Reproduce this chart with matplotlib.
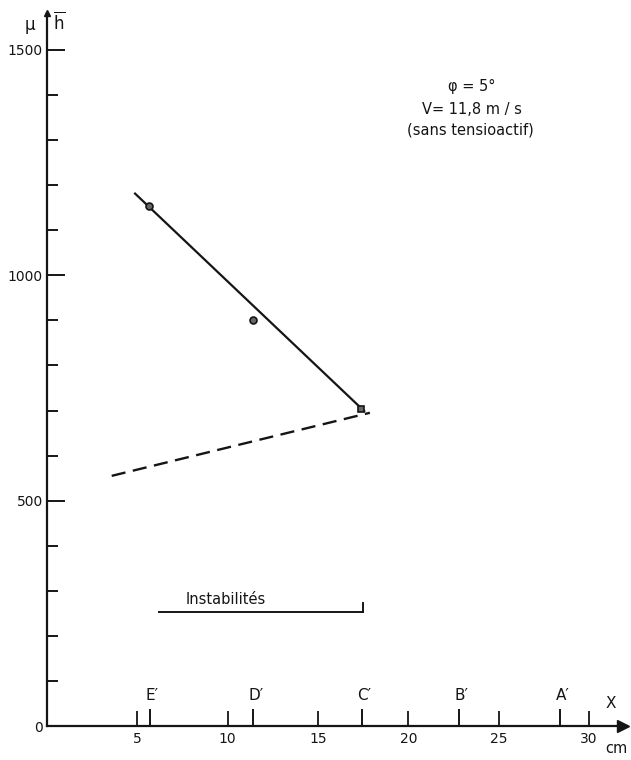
import matplotlib
matplotlib.use("Agg")
import matplotlib.pyplot as plt
from matplotlib.ticker import MultipleLocator

plt.rcParams['font.family'] = ['DejaVu Sans']
plt.rcParams['mathtext.fontset'] = 'dejavusans'

# measured points (X in cm, mu/h)
x_pts = [5.66, 11.38, 17.38]
y_pts = [1154, 901, 703]
pt_markers = ['o', 'o', 's']

# fitted straight line and dashed line
fit_x = [4.83, 17.6]
fit_y = [1183, 697]
dash_x = [3.58, 17.87]
dash_y = [555, 695]

# probe stations along the channel
station_x = [5.71, 11.42, 17.42, 22.8, 28.4]
station_lbl = ["E\u2032", "D\u2032", "C\u2032", "B\u2032", "A\u2032"]

# instability zone
instab_x = [6.21, 17.47]
instab_y = 252

xmax, ymax = 32.0, 1582
ink = '#151515'

fig = plt.figure(figsize=(6.31, 7.60), dpi=100)
fig.patch.set_facecolor('white')
ax = fig.add_axes([47 / 631, 34 / 760, xmax * 18.07 / 631, ymax * 0.4507 / 760])
ax.set_xlim(0, xmax)
ax.set_ylim(0, ymax)

for s in ['top', 'right']:
    ax.spines[s].set_visible(False)
for s in ['left', 'bottom']:
    ax.spines[s].set_linewidth(1.6)
    ax.spines[s].set_color(ink)

# arrow heads on the axes
ax.plot(xmax - 0.15, 0, marker='>', ms=8, color=ink, clip_on=False)
ax.plot(0, ymax, marker='^', ms=5, color=ink, clip_on=False)

ax.set_xticks([5, 10, 15, 20, 25, 30])
ax.yaxis.set_minor_locator(MultipleLocator(100))
ax.set_yticks([0, 500, 1000, 1500])
ax.tick_params(axis='x', direction='in', length=11, width=1.3, color=ink,
               labelsize=10, pad=4, labelcolor=ink)
ax.tick_params(axis='y', which='major', direction='in', length=13, width=1.4,
               color=ink, labelsize=10, pad=3, labelcolor=ink)
ax.tick_params(axis='y', which='minor', direction='in', length=8, width=1.4, color=ink)
ax.set_yticklabels(['0', '500', '1000', '1500'])

# station marks with letters
ax.vlines(station_x, 0, 38, colors=ink, lw=1.4)
for sx, lb in zip(station_x, station_lbl):
    ax.text(sx - 0.25, 50, lb, fontsize=11, color=ink, ha='left', va='bottom')

# lines and points
ax.plot(fit_x, fit_y, color=ink, lw=1.6, solid_capstyle='butt')
ax.plot(dash_x, dash_y, color=ink, lw=1.7, dashes=[6, 3.2])
for px, py, mk in zip(x_pts, y_pts, pt_markers):
    ax.plot(px, py, marker=mk, ms=5, mfc='#666666', mec=ink, mew=1.2, ls='none')

# instability range
ax.plot(instab_x, [instab_y, instab_y], color=ink, lw=1.4)
ax.plot([instab_x[1], instab_x[1]], [instab_y, instab_y + 22], color=ink, lw=1.4)
ax.text(9.9, instab_y + 12, "Instabilités", fontsize=10.5, color=ink,
        ha='center', va='bottom')

# axis names
ax.text(-0.94, 1555, "\u03bc", fontsize=12, color=ink, ha='center', va='center', clip_on=False)
ax.text(0.7, 1562, r"$\overline{\mathrm{h}}$", fontsize=12, color=ink, ha='center', va='center', clip_on=False)
ax.text(31.2, 51, "X", fontsize=11, color=ink, ha='center', va='center', clip_on=False)
ax.text(31.5, -49, "cm", fontsize=10.5, color=ink, ha='center', va='center', clip_on=False)

# run conditions
ax.text(23.5, 1418, "\u03c6 = 5°", fontsize=10.5, color=ink, ha='center', va='center')
ax.text(23.5, 1367, "V= 11,8 m / s", fontsize=10.5, color=ink, ha='center', va='center')
ax.text(23.45, 1322, "(sans tensioactif)", fontsize=10.5, color=ink, ha='center', va='center')

fig.savefig("out.png", dpi=100, facecolor='white')
